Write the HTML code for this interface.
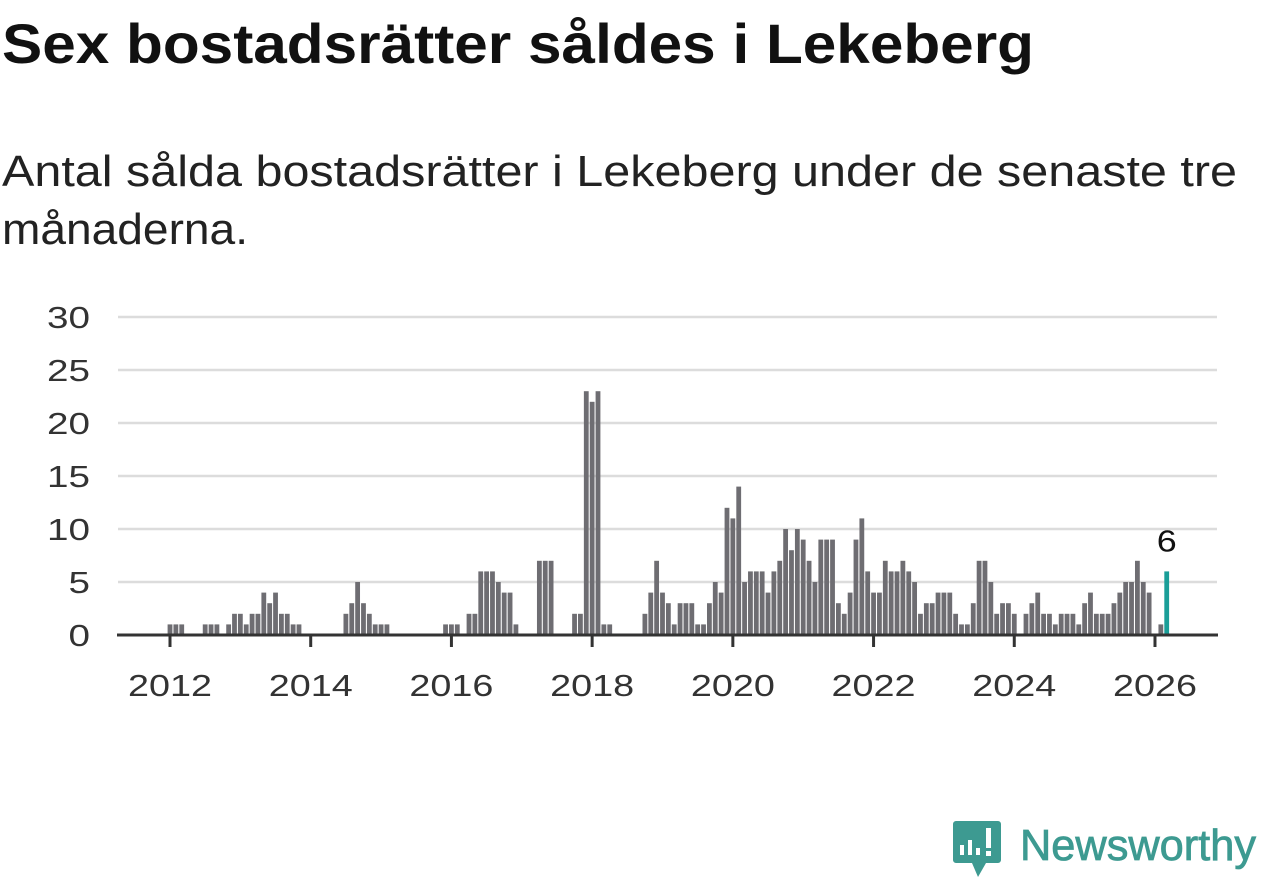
<!DOCTYPE html>
<html><head><meta charset="utf-8"><style>
html,body{margin:0;padding:0;background:#fff;width:1262px;height:879px;overflow:hidden}
svg{display:block;font-family:"Liberation Sans","DejaVu Sans",sans-serif}
</style></head><body>
<svg id="chart" width="1262" height="879" viewBox="0 0 1262 879">
<text x="2" y="63" font-size="56" font-weight="bold" fill="#111" textLength="1032" lengthAdjust="spacingAndGlyphs">Sex bostadsrätter såldes i Lekeberg</text>
<text x="2" y="186" font-size="44" fill="#222" textLength="1235" lengthAdjust="spacingAndGlyphs">Antal sålda bostadsrätter i Lekeberg under de senaste tre</text>
<text x="2" y="244" font-size="44" fill="#222" textLength="246" lengthAdjust="spacingAndGlyphs">månaderna.</text>
<g id="grid"></g><g id="bars"></g><g id="axis"></g>
<g>
<path d="M956 821 h42 a3 3 0 0 1 3 3 v36 a3 3 0 0 1 -3 3 h-12 l-8 14 l-6 -14 h-16 a3 3 0 0 1 -3 -3 v-36 a3 3 0 0 1 3 -3z" fill="#3d9a91"/>
<rect x="960" y="845" width="4" height="10" fill="#fff"/><rect x="968" y="840" width="4" height="15" fill="#fff"/><rect x="976" y="848" width="4" height="7" fill="#fff"/><rect x="986" y="828" width="5" height="20" fill="#fff"/><rect x="986" y="851" width="5" height="5" fill="#fff"/>
<text x="1020" y="860" font-size="44" fill="#3d9a91" stroke="#3d9a91" stroke-width="0.8" textLength="236" lengthAdjust="spacingAndGlyphs">Newsworthy</text>
</g>
</svg>
<script>
const values=[1,1,1,0,0,0,1,1,1,0,1,2,2,1,2,2,4,3,4,2,2,1,1,0,0,0,0,0,0,0,2,3,5,3,2,1,1,1,0,0,0,0,0,0,0,0,0,1,1,1,0,2,2,6,6,6,5,4,4,1,0,0,0,7,7,7,0,0,0,2,2,23,22,23,1,1,0,0,0,0,0,2,4,7,4,3,1,3,3,3,1,1,3,5,4,12,11,14,5,6,6,6,4,6,7,10,8,10,9,7,5,9,9,9,3,2,4,9,11,6,4,4,7,6,6,7,6,5,2,3,3,4,4,4,2,1,1,3,7,7,5,2,3,3,2,0,2,3,4,2,2,1,2,2,2,1,3,4,2,2,2,3,4,5,5,7,5,4,0,1,6];
const yTicks=[0,5,10,15,20,25,30];
const xTickLabels=["2012","2014","2016","2018","2020","2022","2024","2026"];
const startYear=2012;
const NS="http://www.w3.org/2000/svg";
const x0=170,mw=5.863,y0=635,yu=10.6;
const X=m=>x0+m*mw, Y=v=>y0-v*yu;
function mk(t,a,p){const e=document.createElementNS(NS,t);for(const k in a)e.setAttribute(k,a[k]);p.appendChild(e);return e;}
const grid=document.getElementById('grid'),bars=document.getElementById('bars'),axis=document.getElementById('axis');
yTicks.forEach(v=>{
 if(v>0){const l=mk('line',{x1:118,x2:1217,y1:Y(v),y2:Y(v),stroke:'#dcdcdc','stroke-width':2.5},grid);
 
 }
 const s=String(v);
 const t=mk('text',{x:90,y:Y(v)+11,'font-size':31,fill:'#333','text-anchor':'end',textLength:s.length*21.5,lengthAdjust:'spacingAndGlyphs'},grid);t.textContent=s;
 
 
});
const last=values.length-1;
values.forEach((v,i)=>{
 if(v<=0)return;
 const r=mk('rect',{x:X(i)-2.4,y:Y(v),width:4.8,height:v*yu,fill:i===last?'#1a9e98':'#6e6d72'},bars);
 
 
});
const lab=mk('text',{x:X(last),y:Y(values[last])-20,'font-size':31,fill:'#111','text-anchor':'middle',textLength:20,lengthAdjust:'spacingAndGlyphs'},bars);
lab.textContent=values[last];


const base=mk('line',{x1:117,x2:1218,y1:y0,y2:y0,stroke:'#333','stroke-width':3},axis);


xTickLabels.forEach(s=>{
 const m=(parseInt(s)-startYear)*12;
 const tk=mk('line',{x1:X(m),x2:X(m),y1:y0,y2:y0+12,stroke:'#333','stroke-width':3},axis);
 
 
 const t=mk('text',{x:X(m),y:696,'font-size':31,fill:'#333','text-anchor':'middle',textLength:84,lengthAdjust:'spacingAndGlyphs'},axis);t.textContent=s;
 
 
});
</script>
</body></html>
